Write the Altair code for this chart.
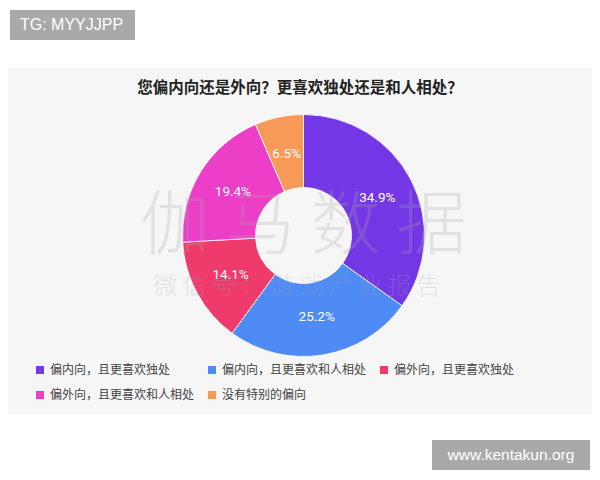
import altair as alt
import pandas as pd

# ---- data ----
categories = ["偏内向，且更喜欢独处", "偏内向，且更喜欢和人相处", "偏外向，且更喜欢独处",
              "偏外向，且更喜欢和人相处", "没有特别的偏向"]
values = [34.9, 25.2, 14.1, 19.4, 6.5]
labels = ["34.9%", "25.2%", "14.1%", "19.4%", "6.5%"]
colors = ["#7437E6", "#4E8BF5", "#EF3A6C", "#EC3EC7", "#F89A57"]

title_text = "您偏内向还是外向？更喜欢独处还是和人相处？"
watermark_big = "伽 马 数 据"
watermark_small = "微 信 号 ： 游 戏 产 业 报 告"
tag_top = "TG: MYYJJPP"
tag_bottom = "www.kentakun.org"

df = pd.DataFrame({"cat": categories, "value": values, "label": labels,
                   "idx": list(range(len(categories)))})

W, H = 584, 464
CX, CY = 295.5, 227.5
FONT_CJK = "Noto Sans CJK SC"

one = pd.DataFrame({"a": [0]})

panel = alt.Chart(one).mark_rect(color="#f6f6f6").encode(
    x=alt.value(-5), x2=alt.value(589), y=alt.value(60), y2=alt.value(407))

title = alt.Chart(one).mark_text(
    text=title_text, font=FONT_CJK, fontSize=15.5, fontWeight="bold",
    color="#222222", align="center", baseline="middle").encode(
    x=alt.value(292), y=alt.value(80))

arcs = alt.Chart(df).mark_arc(innerRadius=48, outerRadius=121, stroke="white",
                              strokeWidth=0.8).encode(
    theta=alt.Theta("value:Q", stack=True),
    order=alt.Order("idx:Q"),
    color=alt.Color("cat:N", sort=categories,
                    scale=alt.Scale(domain=categories, range=colors),
                    legend=alt.Legend(
                        title=None, orient="none", legendX=26, legendY=356,
                        columns=3, direction="horizontal",
                        symbolType="square", symbolSize=64,
                        symbolStrokeWidth=0, labelFont=FONT_CJK, labelFontSize=12,
                        labelColor="#444444", labelOffset=4, columnPadding=11,
                        rowPadding=13, padding=0, labelLimit=300)),
    x=alt.value(CX), y=alt.value(CY))

texts = alt.Chart(df).mark_text(radius=83, font="Roboto", fontSize=13.5,
                                color="white").encode(
    theta=alt.Theta("value:Q", stack=True),
    order=alt.Order("idx:Q"),
    text="label:N",
    x=alt.value(CX), y=alt.value(CY))

wm1 = alt.Chart(one).mark_text(
    text=watermark_big, font=FONT_CJK, fontSize=70, fontWeight=300,
    color="#a8a8a8", opacity=0.26, align="center", baseline="middle").encode(
    x=alt.value(295), y=alt.value(220))

wm2 = alt.Chart(one).mark_text(
    text=watermark_small, font=FONT_CJK, fontSize=24, fontWeight=300,
    color="#a8a8a8", opacity=0.26, align="center", baseline="middle").encode(
    x=alt.value(289), y=alt.value(279))

tag1_bg = alt.Chart(one).mark_rect(color="#a9a9a9").encode(
    x=alt.value(2), x2=alt.value(127), y=alt.value(2), y2=alt.value(32))
tag1 = alt.Chart(one).mark_text(
    text=tag_top, font="Liberation Sans", fontSize=16, color="white",
    align="left", baseline="middle").encode(x=alt.value(12), y=alt.value(17))

tag2_bg = alt.Chart(one).mark_rect(color="#a9a9a9").encode(
    x=alt.value(424), x2=alt.value(582), y=alt.value(432), y2=alt.value(462))
tag2 = alt.Chart(one).mark_text(
    text=tag_bottom, font="Liberation Sans", fontSize=15.5, color="white",
    align="center", baseline="middle").encode(x=alt.value(503), y=alt.value(447))

chart = alt.layer(panel, title, arcs, texts, wm1, wm2, tag1_bg, tag1, tag2_bg, tag2).properties(
    width=W, height=H, autosize=alt.AutoSizeParams(type="none"), padding=0,
    background="white"
).configure_view(stroke=None)

chart.save("out.html", embed_options={"renderer": "svg", "actions": False})
